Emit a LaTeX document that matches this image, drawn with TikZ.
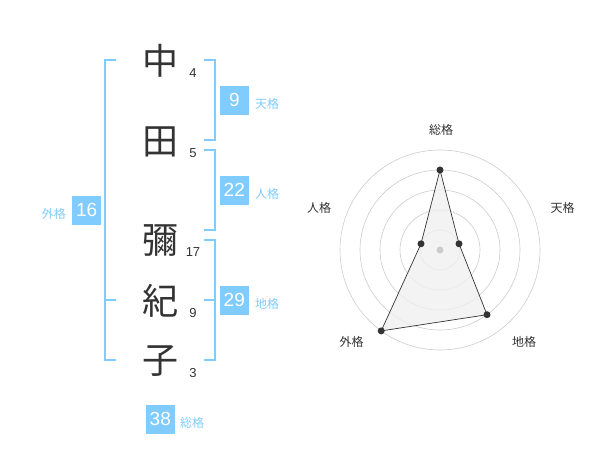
\documentclass[tikz,border=0pt]{standalone}
\usepackage{fontspec}
\setmainfont{Liberation Sans}
\newfontfamily\cjk{Noto Sans CJK JP}
\definecolor{sky}{RGB}{128,204,255}
\definecolor{ink}{RGB}{51,51,51}
\definecolor{ringc}{RGB}{204,204,204}
\definecolor{fillc}{RGB}{240,240,240}
\tikzset{
  kanji/.style={inner sep=0pt, text=ink, font=\cjk\fontsize{36}{36}\selectfont},
  strokes/.style={inner sep=0pt, text=ink, font=\fontsize{13}{13}\selectfont},
  valbox/.style={fill=sky, text=white, minimum width=28.7pt, minimum height=28.7pt, inner sep=0pt, font=\fontsize{19}{19}\selectfont},
  kaku/.style={inner sep=0pt, text=sky, font=\cjk\fontsize{12}{12}\selectfont},
  bracket/.style={draw=sky, line width=2pt},
  ring/.style={draw=ringc, line width=0.6pt},
  axislabel/.style={inner sep=0pt, text=ink, font=\cjk\fontsize{12}{12}\selectfont},
  vertex/.style={circle, fill=ink, inner sep=0pt, minimum size=7pt},
}
\begin{document}
\begin{tikzpicture}[x=1pt,y=-1pt]
\useasboundingbox (0,0) rectangle (600,470);
% characters
\node[kanji] (k1) at (160,61) {中};
\node[kanji] (k2) at (160,142) {田};
\node[kanji] (k3) at (160,241) {彌};
\node[kanji] (k4) at (160,301) {紀};
\node[kanji] (k5) at (160,361) {子};
% stroke counts
\node[strokes] (s1) at (193,73) {4};
\node[strokes] (s2) at (193,153) {5};
\node[strokes] (s3) at (193,252.5) {17};
\node[strokes] (s4) at (193,313) {9};
\node[strokes] (s5) at (193,373) {3};
% brackets
\draw[bracket] (116,60) -- (105,60) -- (105,360) -- (116,360);
\draw[bracket] (105,300) -- (116,300);
\draw[bracket] (204,60) -- (215,60) -- (215,140) -- (204,140);
\draw[bracket] (204,150) -- (215,150) -- (215,230) -- (204,230);
\draw[bracket] (204,240) -- (215,240) -- (215,360) -- (204,360);
\draw[bracket] (204,300) -- (215,300);
% value boxes
\node[valbox] (b9) at (234.3,100.3) {9};
\node[kaku, anchor=west] (l9) at (255,104) {天格};
\node[valbox] (b22) at (234.3,190.3) {22};
\node[kaku, anchor=west] (l22) at (255,194) {人格};
\node[valbox] (b29) at (234.3,300.3) {29};
\node[kaku, anchor=west] (l29) at (255,304) {地格};
\node[valbox] (b16) at (86.7,210.3) {16};
\node[kaku, anchor=east] (l16) at (66,214) {外格};
\node[valbox] (b38) at (160.3,419.3) {38};
\node[kaku, anchor=west] (l38) at (180,422.5) {総格};
% radar
\coordinate (c) at (440,250);
\foreach \r in {20,40,60,80,100} \draw[ring] (c) circle[radius=\r];
\coordinate (psou) at (440,170);
\coordinate (pten) at (459.0,243.8);
\coordinate (pjin) at (421.0,243.8);
\coordinate (pchi) at (487.0,314.7);
\coordinate (pgai) at (381.2,330.9);
\draw[fill=fillc, fill opacity=0.8, draw=ink, line width=0.7pt] (psou) -- (pten) -- (pchi) -- (pgai) -- (pjin) -- cycle;
\fill[ringc] (c) circle[radius=3.5];
\foreach \p in {psou,pten,pjin,pchi,pgai} \node[vertex] at (\p) {};
\node[axislabel] (asou) at (441,130) {総格};
\node[axislabel] (aten) at (562.7,208.3) {天格};
\node[axislabel] (ajin) at (319,208.3) {人格};
\node[axislabel] (agai) at (351.7,342.3) {外格};
\node[axislabel] (achi) at (524,342.3) {地格};
\end{tikzpicture}
\end{document}
